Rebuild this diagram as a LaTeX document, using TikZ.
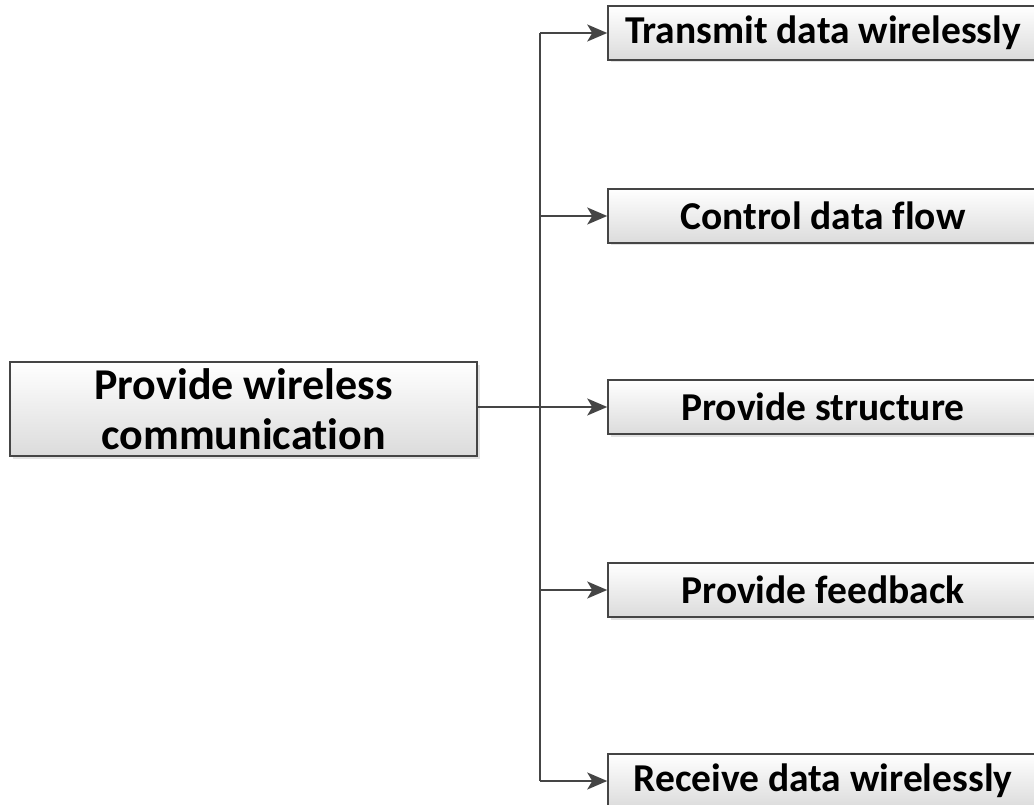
\documentclass[tikz,border=0pt]{standalone}
\usepackage{fontspec}
\setmainfont[Ligatures=NoCommon,RawFeature={-liga;-dlig;-clig}]{Carlito}
\usepackage{xcolor}
\definecolor{linegray}{HTML}{454545}
\usetikzlibrary{shadows,arrows.meta}
\tikzset{
  funcbox/.style={draw=linegray, line width=1.5pt, top color=white, bottom color=gray!28,
    drop shadow={shadow xshift=2.5pt, shadow yshift=-2.5pt, fill=gray!45},
    font=\fontsize{39.5}{50}\selectfont\bfseries, text=black, inner sep=0pt},
  arr/.style={draw=linegray, line width=1.6pt, -{Stealth[length=20pt,width=17pt,inset=5pt]}}
}
\newcommand{\sub}[3]{
\node[funcbox, minimum width=430pt, minimum height=54pt] (#1) at (823,#2) {#3};
}
\begin{document}
\begin{tikzpicture}[x=1pt,y=-1pt]
\useasboundingbox (0,0) rectangle (1034,805);
\clip (0,0) rectangle (1034,805);

\node[funcbox, minimum width=467pt, minimum height=94pt, align=center,
  font=\fontsize{44}{50}\selectfont\bfseries] (main) at (243.5,409)
  {Provide wireless\\communication};

\sub{transmit}{33}{Transmit data wirelessly}
\sub{control}{216}{Control data flow}
\sub{structure}{407}{Provide structure}
\sub{feedback}{590}{Provide feedback}
\sub{receive}{781}{Receive data wirelessly}

\coordinate (fork) at (540,407);
\coordinate (top) at (540,33);
\coordinate (bottom) at (540,781);

\draw[draw=linegray, line width=1.6pt] (top) -- (bottom);
\draw[arr] (main.east |- fork) -- (structure.west);
\draw[arr] (top) -- (transmit.west);
\draw[arr] (fork |- control.west) -- (control.west);
\draw[arr] (fork |- feedback.west) -- (feedback.west);
\draw[arr] (bottom) -- (receive.west);

\end{tikzpicture}
\end{document}
